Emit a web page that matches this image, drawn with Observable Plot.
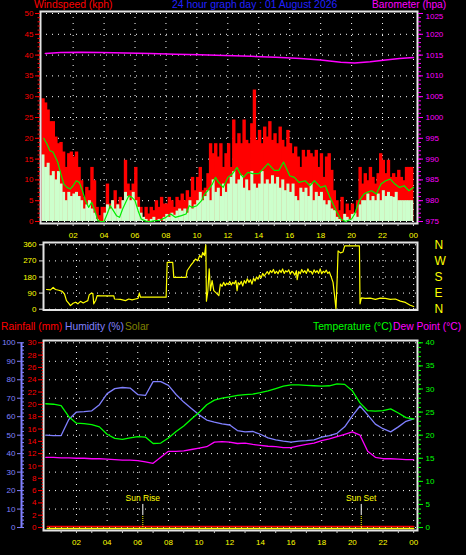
<!DOCTYPE html>
<html><head><meta charset="utf-8">
<script src="https://cdn.jsdelivr.net/npm/d3@7"></script>
<script src="https://cdn.jsdelivr.net/npm/@observablehq/plot@0.6"></script>
<style>
html,body{margin:0;padding:0;background:#000;}
#wrap{position:relative;width:466px;height:555px;background:#000;overflow:hidden;font-family:"Liberation Sans",Arial,sans-serif;}
#wrap svg{position:absolute;left:0;}
.lbl{position:absolute;white-space:nowrap;line-height:1;}
</style></head><body><div id="wrap"></div>
<script>
// ================= DATA =================
const titleText = "24 hour graph day : 01 August 2026";
const hourTicks = [2,4,6,8,10,12,14,16,18,20,22,24];
const hourLabels = ["02","04","06","08","10","12","14","16","18","20","22","00"];
const windTicks = [0,5,10,15,20,25,30,35,40,45,50];
const baroTicks = [975,980,985,990,995,1000,1005,1010,1015,1020,1025];
const dirTicks = [0,90,180,270,360];
const dirLetters = ["N","E","S","W","N"];
const humTicks = [0,10,20,30,40,50,60,70,80,90,100];
const rainTicks = [0,2,4,6,8,10,12,14,16,18,20,22,24,26,28,30];
const tempTicks = [0,5,10,15,20,25,30,35,40];

// wind gust / speed, 10-minute bins from 00:00 (kph)
const windGust = [29.5,28.5,26.8,24,24,20.3, 18.7,19,16.7,13,16.3,16.7, 15.5,16.7,13,9.8,5.8,8.2,
 7.4,13,9.8,3.4,1.4,3.4, 3.4,9,4.2,5,7.4,4.2, 5.8,5,14.7,9,7.4,9, 13,5.8,3.4,0.6,3.4,1.8,
 3.4,2.6,5,3.4,5.8,4.2, 4.2,5.8,5,3.4,5.8,5, 6.6,5,7.4,5.8,10.6,7.4, 10.6,13,7.4,8,11.5,18.7,
 16.3,18.7,15.5,18.7,13,16.3, 18.7,13,24.4,18.7,21.1,18.7, 24.4,19.5,18.7,23.5,31.6,19.5,
 21.9,18.7,22.7,20.3,24,19.5, 21.1,18.7,22.7,19.5,17.9,21.9, 18.7,16.3,17.9,15.5,13,17.1,
 15.5,17.1,16.3,15.5,17.1,13, 16.3,10.6,15.5,16.3,12.3,7.4, 5,2.6,5.8,1.8,4.2,2.6,
 4.2,1.8,5,13,9,11.5, 9.8,13,10.6,9,11.5,16.3, 14.7,11.5,14.7,10.6,11.5,10.6, 12.3,10.6,9.8,13,13,13];
const windSpeed = [16,13,14,11,12,10, 12,9,7,5,7,6, 6.6,7,6,5,3,4, 5,3,2,0.5,0,0, 2,4,3,5,3,4,
 3,5,7,6,5,7, 5,3.4,2,1,0.5,0, 0.5,1,0,0.5,0,1, 1.7,1,2,1.5,2.5,3, 2.5,3,2,5,3,4,
 5,7,5,6,7.4,5, 10,7,8,6,9,7, 9,10.6,12,9,10,11, 8,10,7.4,12,9,8, 9,12,9,10,9,11,
 9,10.6,8,10,7.4,9, 7,9,6,5,8,7, 8,6,9,5,7,6, 7,5,4,5,3,2.6, 1,0.5,0,1.7,1,0.5,
 1.7,2,1,4,5,5, 6.6,5,6,5,6.6,5, 7.4,6,7,6,5.8,7, 5,5,5,5,5,5];
// average wind (hour, kph)
const windAvgHours = [0.1,0.3,0.5,0.7,1.0,1.2,1.4,1.6,1.8,2.0,2.2,2.4,2.6,2.8,3.0,3.2,3.4,3.6,3.8,4.0,4.2,4.4,4.6,4.8,5.0,5.2,5.4,5.6,5.8,6.0,6.2,6.4,6.7,7.0,7.3,7.6,8.0,8.3,8.6,9.0,9.3,9.5,9.7,10.0,10.3,10.5,10.7,11.0,11.2,11.4,11.7,12.0,12.3,12.6,12.8,13.0,13.3,13.6,14.0,14.3,14.6,15.0,15.3,15.6,16.0,16.3,16.6,17.0,17.3,17.6,18.0,18.3,18.6,18.8,19.0,19.3,19.6,20.0,20.2,20.5,20.8,21.0,21.3,21.6,21.9,22.2,22.5,22.8,23.1,23.4,23.7,24.0];
const windAvgValues = [20,18.7,17,16.7,14.3,11.5,9,8.2,7.8,8.6,9.8,9.4,7.4,5,3.4,4.6,2.6,0.2,0,0,1.8,3.8,2.6,1.4,1,3,4.6,6.2,5.8,5,2.6,0.6,0.1,0,0.2,0.3,1,1.8,1,1.4,1.8,3.8,3.4,3.8,5,6.6,7.4,9,10.6,9.4,8.2,10.6,11.5,13,11.5,10.6,11.8,11.5,11.5,12.7,13.9,12.3,12.3,14.3,11,10.6,9.4,9.8,8.6,9.8,8.2,8.6,5.8,4.2,2.6,0.6,0,0.6,1.8,5,6.6,7,7.4,6.6,9,9.8,10.2,9,8.2,8.6,7.4,8.2];
// barometer (hour, hPa)
const baroHours = [0.2,1.2,2.5,3.8,5.4,7.0,8.6,10.2,11.8,13.5,15.1,16.7,18.0,19.3,20.2,21.2,22.2,23.1,24.0];
const baroValues = [1015.4,1015.6,1015.7,1015.6,1015.5,1015.4,1015.2,1015.1,1014.9,1014.7,1014.5,1014.2,1013.8,1013.3,1013.1,1013.4,1013.8,1014.2,1014.4];
// wind direction (hour, degrees)
const dirHours = [0.05,0.31,0.48,0.63,0.85,1.07,1.22,1.35,1.5,1.61,1.78,1.94,2.09,2.26,2.44,2.59,2.74,2.83,2.96,3.07,3.13,3.26,3.35,3.57,4.44,4.48,4.87,5.2,5.41,5.63,5.85,6.02,6.1,6.18,7.85,7.92,8.28,8.35,9.15,9.22,9.44,9.61,9.76,9.91,10.04,10.15,10.24,10.35,10.44,10.48,10.57,10.66,10.74,10.85,10.96,11.13,11.29,
 11.39,11.5,11.6,11.7,11.8,11.9,12.0,12.1,12.2,12.3,12.4,12.48,12.55,12.65,12.75,12.85,12.95,13.05,13.15,13.25,13.35,13.45,13.55,13.65,13.75,13.85,13.95,14.05,14.15,14.25,14.35,14.45,14.55,14.65,14.75,14.85,14.95,15.05,15.15,15.25,15.35,15.45,15.55,15.65,15.75,15.85,15.95,16.05,16.15,16.25,16.35,16.4,16.5,16.6,16.7,16.8,16.9,17.0,17.1,17.2,17.3,17.4,17.5,17.6,17.7,17.8,17.9,18.0,18.1,18.2,18.3,18.4,18.5,
 18.63,18.74,18.85,18.93,19.0,19.07,19.22,19.39,19.5,20.46,20.5,20.59,20.85,21.17,21.5,21.82,22.15,22.48,22.8,23.13,23.46,23.78,24.0];
const dirValues = [110,108,122,110,106,100,85,48,33,20,33,39,30,44,35,42,48,80,89,88,30,50,76,74,74,57,55,48,57,52,57,60,90,67,67,262,262,178,178,215,243,262,280,271,300,290,317,300,360,45,100,225,104,160,104,90,76,
 140,128,150,132,146,138,155,135,150,142,160,104,148,138,155,130,160,145,170,150,165,140,172,158,180,168,190,175,200,185,198,210,195,215,205,222,200,212,198,218,205,225,200,215,208,220,196,212,205,190,215,165,210,198,222,205,215,200,225,208,212,196,220,205,215,200,225,198,212,205,218,200,208,
 178,150,67,0,150,326,315,320,354,354,30,63,60,62,55,62,60,55,57,45,38,22,15];
// temperature, humidity, dew point every 30 minutes from 00:00
const thHours = [0,0.5,1,1.5,2,2.5,3,3.5,4,4.5,5,5.5,6,6.5,7,7.5,8,8.5,9,9.5,10,10.5,11,11.5,12,12.5,13,13.5,14,14.5,15,15.5,16,16.5,17,17.5,18,18.5,19,19.5,20,20.5,21,21.5,22,22.5,23,23.5,24];
const temperature = [26.8,26.7,26.4,24.0,22.6,22.5,22.3,21.8,20.2,19.3,19.1,19.4,19.7,19.6,18.2,18.3,19.4,20.8,22.0,23.5,24.9,26.6,27.6,28.0,28.3,28.6,28.8,28.9,29.2,29.6,30.1,30.6,30.9,30.9,30.8,30.7,30.6,30.7,31.1,31.0,29.6,27.0,25.3,25.2,25.3,25.7,24.8,23.8,23.5];
const humidity = [50,49.8,49.8,58.5,62.5,62.8,63.2,66.5,72.5,75.2,75.8,75.5,72,71.5,79,79,77,72,67.9,64.5,61,58.2,57.1,56.1,55.5,52.5,51.8,52,50.5,48.5,47.5,46.8,46.2,46.8,47.1,47.5,48.9,49.8,51,54.5,60.5,65.8,61,56,53.5,51.8,54.5,57.5,58.8];
const dewPoint = [15.2,15.2,15.1,15.1,15.0,15.0,14.9,14.9,14.8,14.7,14.6,14.6,14.5,14.2,13.9,15.2,16.5,16.5,16.6,16.9,17.2,17.5,18.5,18.6,18.5,18.2,18.3,18.0,17.8,17.6,17.5,17.3,17.3,17.7,18.0,18.3,18.8,19.2,19.7,20.2,20.7,20.0,16.5,15.2,14.9,14.9,14.8,14.7,14.7];
const rainHours = [0.1,24]; const rainValues = [0,0];
const solarHours = [0.1,24]; const solarValues = [0,0];
const sunHours = [6.33,20.58]; const sunLabels = ["Sun Rise","Sun Set"];

// ================= BUILD =================
const FONT = '"Liberation Sans", Arial, sans-serif';
const wrap = document.getElementById("wrap");
const baseStyle = {background:"transparent", color:"#fff", fontFamily:FONT, fontSize:"8px", overflow:"visible"};
const hourLabel = d => hourLabels[hourTicks.indexOf(d)];
const dotted = {stroke:"#ffffff", strokeDasharray:"1,5", strokeWidth:1};

const windRows = windGust.map((g,i)=>({t0:i/6, t1:(i+1)/6, gust:g, speed:windSpeed[i]}));
const avgRows = windAvgHours.map((h,i)=>({h, v:windAvgValues[i]}));
const baroRows = baroHours.map((h,i)=>({h, v:baroValues[i]}));
const dirRows = dirHours.map((h,i)=>({h, v:dirValues[i]}));
const thRows = thHours.map((h,i)=>({h, t:temperature[i], rh:humidity[i], dp:dewPoint[i]}));
const rainRows = rainHours.map((h,i)=>({h, v:rainValues[i]}));
const solarRows = solarHours.map((h,i)=>({h, v:solarValues[i]}));
const sunRows = sunHours.map((h,i)=>({h, label:sunLabels[i]}));
const baroPos = baroTicks.map(b=>b-975);

function place(el, top){ el.style.position="absolute"; el.style.top=top+"px"; el.style.left="0px"; wrap.appendChild(el); }
function label(text, left, top, color, size){
  const d=document.createElement("div"); d.className="lbl"; d.textContent=text;
  d.style.left=left+"px"; d.style.top=top+"px"; d.style.color=color; d.style.fontSize=size+"px";
  wrap.appendChild(d);
}

// ---- Panel 1: wind speed & barometer ----
const p1 = Plot.plot({
  width:466, height:245, marginLeft:40, marginRight:49, marginTop:11, marginBottom:22,
  x:{domain:[-0.11,24.26]}, y:{domain:[-0.48,50.48]},
  style:baseStyle,
  marks:[
    Plot.ruleY(windTicks, dotted),
    Plot.ruleX(hourTicks, dotted),
    Plot.rectY(windRows, {x1:"t0", x2:"t1", y:"gust", fill:"#ff0000", insetLeft:-0.4, insetRight:-0.4}),
    Plot.rectY(windRows, {x1:"t0", x2:"t1", y:"speed", fill:"#ccffcc", insetLeft:-0.2, insetRight:-0.2}),
    Plot.line(avgRows, {x:"h", y:"v", stroke:"#00ee00", strokeWidth:1.2}),
    Plot.line(baroRows, {x:"h", y:d=>d.v-975, stroke:"#ff00ff", strokeWidth:1.5}),
    Plot.frame({stroke:"#e4e4e4", strokeWidth:2}),
    Plot.axisY(windTicks, {anchor:"left", tickSize:5, tickPadding:2, stroke:"#ff0000", fill:"#ff0000", label:null}),
    Plot.axisY(d3.range(0,51), {anchor:"left", tickSize:2.5, stroke:"#ff0000", tickFormat:()=>"", label:null}),
    // barometer: ticks, then labels (top label nudged down under the header)
    Plot.axisY(baroPos, {anchor:"right", tickSize:5, stroke:"#ff00ff", tickFormat:()=>"", label:null}),
    Plot.axisY(baroPos.slice(0,-1), {anchor:"right", tickSize:0, tickPadding:8, fill:"#ff00ff", tickFormat:d=>String(d+975), label:null}),
    Plot.axisY(baroPos.slice(-1), {anchor:"right", tickSize:0, tickPadding:8, dy:2.5, fill:"#ff00ff", tickFormat:d=>String(d+975), label:null}),
    Plot.axisY(d3.range(0,51), {anchor:"right", tickSize:3, stroke:"#ff00ff", tickFormat:()=>"", label:null}),
    Plot.axisX(d3.range(1,25), {anchor:"bottom", tickSize:3, stroke:"#cccccc", tickFormat:()=>"", label:null}),
    Plot.axisX(hourTicks, {anchor:"bottom", tickSize:0, tickPadding:9, fill:"#ffff00", tickFormat:hourLabel, label:null})
  ]
});
place(p1, 0);

// ---- Panel 2: wind direction ----
const p2 = Plot.plot({
  width:466, height:80, marginLeft:43, marginRight:49, marginTop:4, marginBottom:8.5,
  x:{domain:[-0.15,24.25], axis:null}, y:{domain:[-4.5,372.8]},
  style:baseStyle,
  marks:[
    Plot.ruleY(dirTicks, dotted),
    Plot.ruleX(hourTicks, dotted),
    Plot.line(dirRows, {x:"h", y:"v", stroke:"#ffff00", strokeWidth:1.2}),
    Plot.frame({stroke:"#e4e4e4", strokeWidth:2}),
    Plot.axisY(dirTicks, {anchor:"left", tickSize:4, tickPadding:3, stroke:"#dddddd", fill:"#ffff00", label:null}),
    Plot.axisY(dirTicks, {anchor:"right", tickSize:0, tickPadding:17, fill:"#ffff00", fontSize:12, tickFormat:d=>dirLetters[dirTicks.indexOf(d)], label:null})
  ]
});
place(p2, 238);

// ---- Panel 3: temperature, humidity, dew point, rain, solar ----
const t2y = t => t*2.5, r2y = r => r*100/30;
const p3 = Plot.plot({
  width:466, height:225, marginLeft:43, marginRight:49, marginTop:10, marginBottom:25,
  x:{domain:[-0.15,24.25]}, y:{domain:[-1.6,101.25]},
  style:baseStyle,
  marks:[
    Plot.ruleY(humTicks, dotted),
    Plot.ruleX(hourTicks, dotted),
    Plot.line(thRows, {x:"h", y:"rh", stroke:"#8080ff", strokeWidth:1.3}),
    Plot.line(thRows, {x:"h", y:d=>t2y(d.t), stroke:"#00ff00", strokeWidth:1.3}),
    Plot.line(thRows, {x:"h", y:d=>t2y(d.dp), stroke:"#ff00ff", strokeWidth:1.3}),
    Plot.line(rainRows, {x:"h", y:d=>r2y(d.v), stroke:"#ff0000", strokeWidth:1.5, dy:-1}),
    Plot.line(solarRows, {x:"h", y:d=>d.v, stroke:"#ffff00", strokeWidth:1.5, dy:1}),
    Plot.ruleX(sunRows, {x:"h", y1:6.5, y2:12.5, stroke:"#ffffff"}),
    Plot.ruleX(sunRows, {x:"h", y1:0, y2:6.5, stroke:"#ffff00", strokeDasharray:"1,1"}),
    Plot.text(sunRows, {x:"h", y:16, text:"label", fill:"#ffff00", fontSize:8.5}),
    Plot.frame({stroke:"#e4e4e4", strokeWidth:2}),
    // humidity axis (outer left)
    Plot.ruleX([-0.15], {x:d=>d, y1:0, y2:100, dx:-22, stroke:"#8080ff", strokeWidth:2}),
    Plot.axisY(humTicks, {anchor:"left", dx:-22, tickSize:4, tickPadding:2, stroke:"#8080ff", fill:"#8080ff", label:null}),
    Plot.axisY(d3.range(0,101,2), {anchor:"left", dx:-19, tickSize:3, stroke:"#8080ff", tickFormat:()=>"", label:null}),
    // rain axis (inner left)
    Plot.axisY(rainTicks.map(r2y), {anchor:"left", tickSize:5, tickPadding:2, stroke:"#ff0000", fill:"#ff0000", tickFormat:d=>String(Math.round(d*30/100)), label:null}),
    Plot.axisY(d3.range(0,30.01,0.5).map(r2y), {anchor:"left", tickSize:1.5, stroke:"#ff0000", tickFormat:()=>"", label:null}),
    // temperature axis (right)
    Plot.axisY(tempTicks.map(t2y), {anchor:"right", tickSize:5, tickPadding:3, stroke:"#00ff00", fill:"#00ff00", tickFormat:d=>String(Math.round(d/2.5)), label:null}),
    Plot.axisY(d3.range(0,41).map(t2y), {anchor:"right", tickSize:3, stroke:"#00ff00", tickFormat:()=>"", label:null}),
    Plot.axisX(d3.range(1,25), {anchor:"bottom", tickSize:3, stroke:"#cccccc", tickFormat:()=>"", label:null}),
    Plot.axisX(hourTicks, {anchor:"bottom", tickSize:0, tickPadding:9, fill:"#ffff00", tickFormat:hourLabel, label:null})
  ]
});
place(p3, 330);

// ---- Titles & legends ----
label("Windspeed (kph)", 34, 0, "#ff0000", 10.4);
label(titleText, 172, 0, "#2020ff", 10.4);
label("Barometer (hpa)", 372, 0, "#ff00ff", 10.2);
label("Rainfall (mm)", 1, 322, "#ff0000", 10.3);
label("Humidity (%)", 65, 322, "#8080ff", 10.3);
label("Solar", 125, 322, "#808000", 10.3);
label("Temperature (°C)", 313, 322, "#00ff00", 10.3);
label("Dew Point (°C)", 393, 322, "#ff00ff", 10.3);
</script></body></html>
